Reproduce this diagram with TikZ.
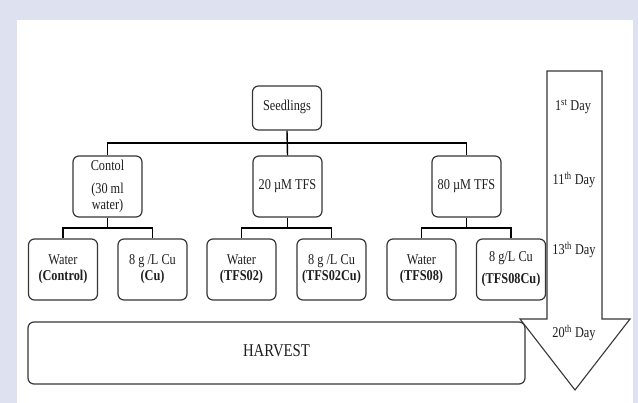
\documentclass[tikz,border=0pt]{standalone}
\usepackage{fontspec}
\setmainfont{Liberation Serif}[FakeStretch=0.82]
\definecolor{frame}{RGB}{221,225,240}
\definecolor{boxline}{RGB}{55,55,55}
\definecolor{txt}{RGB}{30,30,30}
\tikzset{
  box/.style={draw=boxline, line width=1.2pt, rounded corners=6pt, minimum width=69pt, minimum height=61pt, inner sep=0pt, align=center, text=txt, font=\fontsize{15}{16}\selectfont},
  link/.style={draw=black, line width=1.4pt},
  daylbl/.style={text=txt, font=\fontsize{15}{16}\selectfont, inner sep=0pt},
}
\begin{document}
\begin{tikzpicture}[x=1pt,y=-1pt]
\useasboundingbox (0,0) rectangle (638,403);
\fill[frame] (0,0) rectangle (638,403);
\fill[white] (17,20) rectangle (633,403);

% top level
\node[box, minimum height=44pt] (seed) at (287,108) {\raisebox{5pt}{Seedlings}};
\node[box] (ctrl) at (107.5,186.5) {Contol\\[7pt](30 ml\\water)};
\node[box] (t20) at (287.5,186.5) {20 µM TFS};
\node[box] (t80) at (466.5,186.5) {80 µM TFS};

% leaves
\node[box] (w1) at (63,269.5) {Water\\\textbf{(Control)}};
\node[box] (c1) at (152.5,269.5) {8 g /L Cu\\\textbf{(Cu)}};
\node[box] (w2) at (241.5,269.5) {Water\\\textbf{(TFS02)}};
\node[box] (c2) at (331.5,269.5) {8 g /L Cu\\\textbf{(TFS02Cu)}};
\node[box] (w3) at (421.5,269.5) {Water\\\textbf{(TFS08)}};
\node[box] (c3) at (511,269.5) {8 g/L Cu\\[6pt]\textbf{(TFS08Cu)}};

\node[box, minimum width=497pt, minimum height=62pt, font=\fontsize{18}{20}\selectfont] (harv) at (276.5,353) {\raisebox{5pt}{HARVEST}};

% connectors
\coordinate (bus1) at (0,143);
\coordinate (bus2) at (0,228);
\draw[link] (seed.south) -- (t20.north);
\draw[link] (ctrl.north) -- (ctrl.north |- bus1) -- (t80.north |- bus1) -- (t80.north);

\draw[link] (ctrl.south) -- (ctrl.south |- bus2);
\draw[link] (w1.north) -- (w1.north |- bus2) -- (c1.north |- bus2) -- (c1.north);
\draw[link] (t20.south) -- (t20.south |- bus2);
\draw[link] (w2.north) -- (w2.north |- bus2) -- (c2.north |- bus2) -- (c2.north);
\draw[link] (t80.south) -- (t80.south |- bus2);
\draw[link] (w3.north) -- (w3.north |- bus2) -- (c3.north |- bus2) -- (c3.north);

% time arrow
\draw[line width=1.1pt, draw=boxline, line join=miter]
  (547,71) -- (602,71) -- (602,319) -- (630,319) -- (575,390) -- (520,319) -- (547,319) -- cycle;
\node[daylbl] (d1) at (573,107) {1\textsuperscript{st} Day};
\node[daylbl] (d11) at (574,180) {11\textsuperscript{th} Day};
\node[daylbl] (d13) at (574,250) {13\textsuperscript{th} Day};
\node[daylbl] (d20) at (574,333) {20\textsuperscript{th} Day};
\end{tikzpicture}
\end{document}
